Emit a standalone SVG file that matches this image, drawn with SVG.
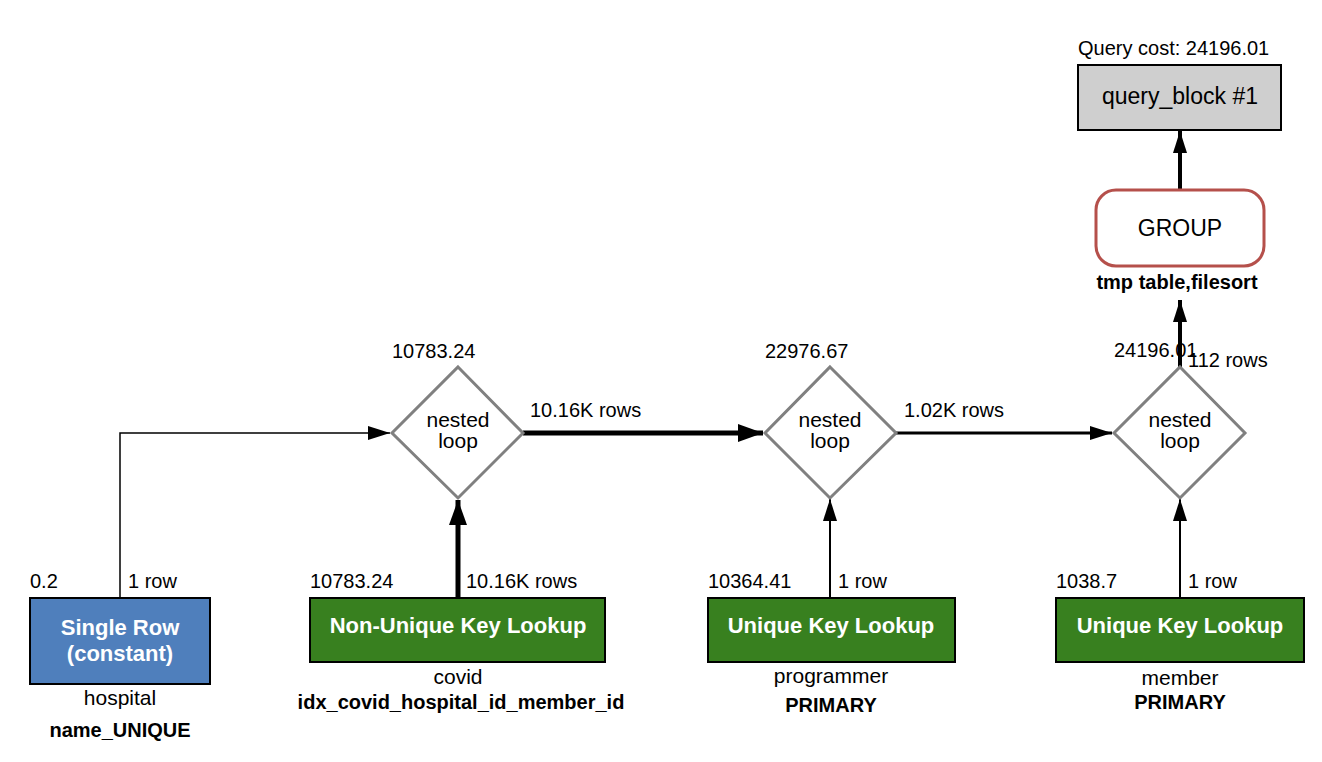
<svg xmlns="http://www.w3.org/2000/svg" width="1322" height="762" viewBox="0 0 1322 762">
  <style>
    text { font-family: "Liberation Sans", Arial, Helvetica, sans-serif; fill: #000; }
    .lbl { font-size: 20px; }
    .cost { font-size: 20px; }
    .tbl { font-size: 21px; }
    .bold { font-weight: bold; font-size: 20px; }
    .op { font-weight: bold; font-size: 22px; fill: #fff; }
    .loop { fill: #fff; stroke: #808080; stroke-width: 3; }
    .loopText { font-size: 21px; }
    .edge { stroke: #000; fill: none; }
    .lookup { fill: #38801f; stroke: #000; stroke-width: 2; }
    .single { fill: #4f7fbc; stroke: #000; stroke-width: 2; }
  </style>
  <defs>
    <marker id="arrowS" markerUnits="userSpaceOnUse" markerWidth="24" markerHeight="16" refX="22" refY="7" orient="auto">
      <path d="M0,0 L22,7 L0,14 Z" fill="#000"/>
    </marker>
    <marker id="arrowL" markerUnits="userSpaceOnUse" markerWidth="28" markerHeight="20" refX="25" refY="9" orient="auto">
      <path d="M0,0 L25,9 L0,18 Z" fill="#000"/>
    </marker>
  </defs>

  <!-- connectors -->
  <g id="edges">
    <polyline class="edge" points="120,598 120,433 390,433" stroke-width="1.5" marker-end="url(#arrowS)"/>
    <line class="edge" x1="458" y1="598" x2="458" y2="500" stroke-width="5" marker-end="url(#arrowL)"/>
    <line class="edge" x1="523" y1="433" x2="763" y2="433" stroke-width="5" marker-end="url(#arrowL)"/>
    <line class="edge" x1="830" y1="598" x2="830" y2="499" stroke-width="2" marker-end="url(#arrowS)"/>
    <line class="edge" x1="896" y1="433" x2="1112" y2="433" stroke-width="3" marker-end="url(#arrowS)"/>
    <line class="edge" x1="1180" y1="598" x2="1180" y2="499" stroke-width="2" marker-end="url(#arrowS)"/>
    <line class="edge" x1="1180" y1="367" x2="1180" y2="300" stroke-width="4" marker-end="url(#arrowS)"/>
    <line class="edge" x1="1180" y1="190" x2="1180" y2="131" stroke-width="4" marker-end="url(#arrowS)"/>

    <text class="lbl" x="128" y="588">1 row</text>
    <text class="lbl" x="466" y="588">10.16K rows</text>
    <text class="lbl" x="530" y="417">10.16K rows</text>
    <text class="lbl" x="838" y="588">1 row</text>
    <text class="lbl" x="904" y="417">1.02K rows</text>
    <text class="lbl" x="1188" y="588">1 row</text>
    <text class="lbl" x="1188" y="367">112 rows</text>
  </g>

  <!-- query block -->
  <g id="query_block">
    <text class="cost" x="1078" y="55">Query cost: 24196.01</text>
    <rect x="1078" y="65" width="203" height="65" fill="#cfcfcf" stroke="#000" stroke-width="2"/>
    <text x="1180" y="104" font-size="23" text-anchor="middle">query_block #1</text>
  </g>

  <!-- group operation -->
  <g id="group">
    <rect x="1096" y="190" width="168" height="76" rx="20" ry="20" fill="#fff" stroke="#b5504b" stroke-width="3"/>
    <text x="1180" y="236" font-size="23" text-anchor="middle">GROUP</text>
    <text class="bold" x="1177" y="289" text-anchor="middle">tmp table,filesort</text>
  </g>

  <!-- nested loops -->
  <g id="loop1">
    <text class="cost" x="392" y="358">10783.24</text>
    <polygon class="loop" points="458,367 523,433 458,498 392,433"/>
    <text class="loopText" x="458" y="427" text-anchor="middle">nested</text>
    <text class="loopText" x="458" y="448" text-anchor="middle">loop</text>
  </g>
  <g id="loop2">
    <text class="cost" x="765" y="358">22976.67</text>
    <polygon class="loop" points="830,367 896,433 830,498 765,433"/>
    <text class="loopText" x="830" y="427" text-anchor="middle">nested</text>
    <text class="loopText" x="830" y="448" text-anchor="middle">loop</text>
  </g>
  <g id="loop3">
    <text class="cost" x="1114" y="357">24196.01</text>
    <polygon class="loop" points="1180,367 1245,433 1180,498 1114,433"/>
    <text class="loopText" x="1180" y="427" text-anchor="middle">nested</text>
    <text class="loopText" x="1180" y="448" text-anchor="middle">loop</text>
  </g>

  <!-- table access nodes -->
  <g id="hospital">
    <text class="cost" x="30" y="588">0.2</text>
    <rect class="single" x="30" y="598" width="180" height="86"/>
    <text class="op" x="120" y="635" text-anchor="middle">Single Row</text>
    <text class="op" x="120" y="661" text-anchor="middle">(constant)</text>
    <text class="tbl" x="120" y="705" text-anchor="middle">hospital</text>
    <text class="bold" x="120" y="737" text-anchor="middle">name_UNIQUE</text>
  </g>
  <g id="covid">
    <text class="cost" x="310" y="588">10783.24</text>
    <rect class="lookup" x="310" y="598" width="295" height="64"/>
    <text class="op" x="458" y="633" text-anchor="middle">Non-Unique Key Lookup</text>
    <text class="tbl" x="458" y="684" text-anchor="middle">covid</text>
    <text class="bold" x="461" y="709" text-anchor="middle">idx_covid_hospital_id_member_id</text>
  </g>
  <g id="programmer">
    <text class="cost" x="708" y="588">10364.41</text>
    <rect class="lookup" x="708" y="598" width="247" height="64"/>
    <text class="op" x="831" y="633" text-anchor="middle">Unique Key Lookup</text>
    <text class="tbl" x="831" y="683" text-anchor="middle">programmer</text>
    <text class="bold" x="831" y="712" text-anchor="middle">PRIMARY</text>
  </g>
  <g id="member">
    <text class="cost" x="1056" y="588">1038.7</text>
    <rect class="lookup" x="1056" y="598" width="248" height="64"/>
    <text class="op" x="1180" y="633" text-anchor="middle">Unique Key Lookup</text>
    <text class="tbl" x="1180" y="685" text-anchor="middle">member</text>
    <text class="bold" x="1180" y="709" text-anchor="middle">PRIMARY</text>
  </g>
</svg>
